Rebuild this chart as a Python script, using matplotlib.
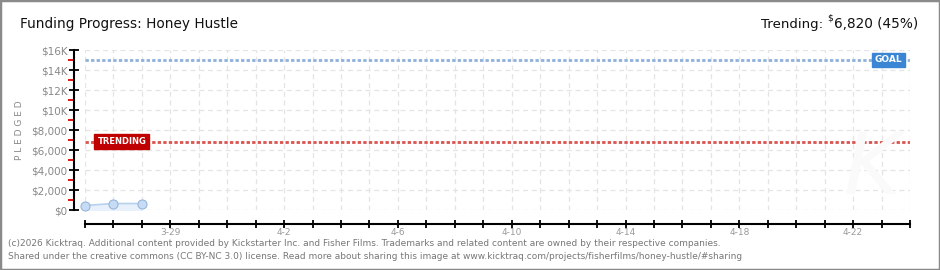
import datetime as dt
import matplotlib
matplotlib.use("Agg")
import matplotlib.pyplot as plt
import matplotlib.dates as mdates
from matplotlib.patches import Rectangle

# pledged amounts per day
dates = ["2026-03-26", "2026-03-27", "2026-03-28"]
pledged = [450, 650, 650]

goal = 15000
trending = 6820
trending_pct = 45
x_start = "2026-03-26"
x_end = "2026-04-24"
y_ticks = [0, 2000, 4000, 6000, 8000, 10000, 12000, 14000, 16000]
y_labels = ["$0", "$2,000", "$4,000", "$6,000", "$8,000", "$10K", "$12K", "$14K", "$16K"]

title = "Funding Progress: Honey Hustle"
footer = [
    "(c)2026 Kicktraq. Additional content provided by Kickstarter Inc. and Fisher Films. "
    "Trademarks and related content are owned by their respective companies.",
    "Shared under the creative commons (CC BY-NC 3.0) license. Read more about sharing this "
    "image at www.kicktraq.com/projects/fisherfilms/honey-hustle/#sharing",
]

W, H = 940, 270
fig = plt.figure(figsize=(W / 100, H / 100), dpi=100)
fig.patch.set_facecolor("white")
fig.patches.append(Rectangle((0, 0), 1, 1, transform=fig.transFigure,
                             fill=False, edgecolor="#8a8a8a", lw=2.5))

ax = fig.add_axes([85 / W, (H - 210) / H, (910 - 85) / W, 160 / H])
x = [dt.datetime.fromisoformat(d) for d in dates]
x0 = dt.datetime.fromisoformat(x_start)
x1 = dt.datetime.fromisoformat(x_end)
ax.set_xlim(x0, x1)
ax.set_ylim(0, 16000)

# grid
ax.set_yticks(y_ticks)
ax.set_yticklabels(y_labels)
ax.yaxis.grid(True, color="#e4e4e4", ls=(0, (4, 3)), lw=0.9)
ax.xaxis.grid(True, color="#e4e4e4", ls=(0, (4, 3)), lw=0.9)
ax.set_axisbelow(True)

days = mdates.drange(x0, x1 + dt.timedelta(hours=1), dt.timedelta(days=1))
labels = []
for i, d in enumerate(days):
    day = mdates.num2date(d)
    labels.append(f"{day.month}-{day.day}" if i >= 3 and (i - 3) % 4 == 0 else "")
ax.set_xticks(days)
ax.set_xticklabels(labels)

for s in ["top", "right"]:
    ax.spines[s].set_visible(False)
ax.spines["left"].set_position(("outward", 8))
ax.spines["bottom"].set_position(("outward", 10))
ax.spines["left"].set_linewidth(1.5)
ax.spines["bottom"].set_linewidth(1.5)
ax.tick_params(axis="y", direction="inout", length=7, width=1.3, colors="black",
               labelcolor="#888888", labelsize=7.5, pad=1)
ax.tick_params(axis="x", direction="inout", length=6, width=1.3, colors="black",
               labelcolor="#999999", labelsize=6.5, pad=0)
ax.set_yticks(range(1000, 16000, 2000), minor=True)
ax.tick_params(axis="y", which="minor", direction="out", length=4, width=1.3, color="#e00000")

fig.text(20 / W, 1 - 130 / H, "P L E D G E D", color="#888888", fontsize=6.5,
         rotation=90, ha="center", va="center")

# goal / trending lines
ax.axhline(goal, color="#8fb1dc", lw=2, ls=(0, (1.2, 0.8)))
ax.axhline(trending, color="#d9534f", lw=2, ls=(0, (1.2, 0.8)))

ax.text(0.957, goal, "GOAL", transform=ax.get_yaxis_transform(), color="white",
        fontsize=6.5, ha="left", va="center", fontweight="bold",
        bbox=dict(boxstyle="square,pad=0.3", fc="#3b86d4", ec="#3b86d4"))
ax.text(0.015, trending, "TRENDING", transform=ax.get_yaxis_transform(), color="white",
        fontsize=6, ha="left", va="center", fontweight="bold",
        bbox=dict(boxstyle="square,pad=0.35", fc="#c00000", ec="#c00000"))

# pledged series
ax.fill_between(x, pledged, color="#e8f1fb", zorder=2)
ax.plot(x, pledged, color="#b7d1ef", lw=1.2, marker="o", ms=6.5,
        mfc="#c6dcf5", mec="#97b6da", mew=0.8, zorder=3, clip_on=False)

# watermark
fig.text(872 / W, 1 - 170 / H, "K", fontsize=62, color="#fafafa", ha="center",
         va="center", style="italic", zorder=0)

# titles
fig.text(20 / W, 1 - 28 / H, title, fontsize=9.8, color="#111111", va="baseline")
t = fig.text(918 / W, 1 - 28 / H, f"6,820 ({trending_pct}%)", fontsize=9.8,
             color="#111111", ha="right", va="baseline")
fig.canvas.draw()
bb = t.get_window_extent()
fig.text(bb.x0 / W - 1 / W, 1 - 21 / H, "$", fontsize=6.5, color="#111111",
         ha="right", va="baseline")
fig.text(bb.x0 / W - 11 / W, 1 - 28 / H, "Trending:", fontsize=9.6,
         color="#111111", ha="right", va="baseline")

fig.text(8 / W, 1 - 246 / H, footer[0], fontsize=6.5, color="#777777", va="baseline")
fig.text(8 / W, 1 - 259 / H, footer[1], fontsize=6.5, color="#777777", va="baseline")

fig.savefig("out.png", dpi=100)
